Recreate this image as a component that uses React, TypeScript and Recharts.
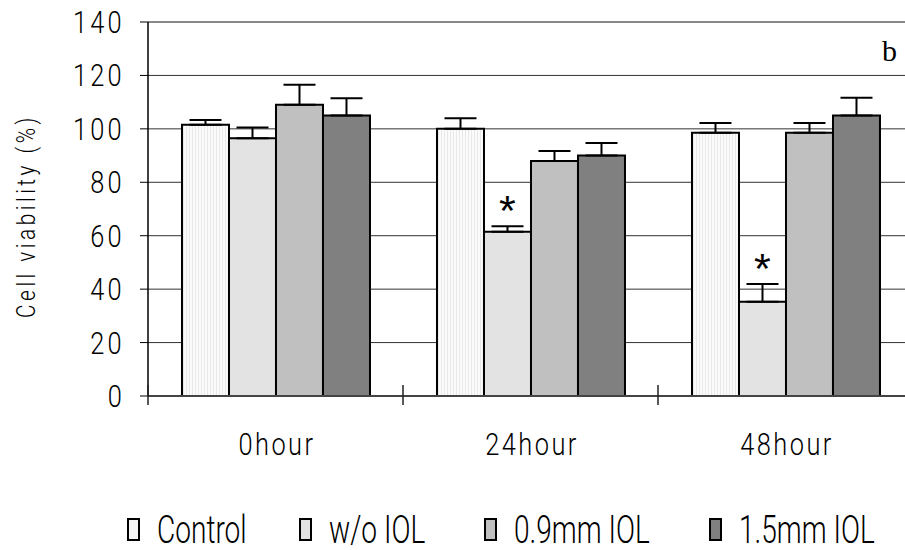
import React from "react";
import {
  BarChart,
  Bar,
  XAxis,
  YAxis,
  CartesianGrid,
  ErrorBar,
  LabelList,
  ReferenceLine,
} from "recharts";

const times = ["0hour", "24hour", "48hour"];
const control = [101.5, 100, 98.5];
const controlErr = [1.8, 4, 3.7];
const withoutIol = [96.5, 61.5, 35.3];
const withoutIolErr = [4, 2, 6.6];
const iol09 = [109, 88, 98.5];
const iol09Err = [7.5, 3.7, 3.7];
const iol15 = [105, 90, 105];
const iol15Err = [6.5, 4.7, 6.6];
const stars = ["", "*", "*"];
const yTicks = [0, 20, 40, 60, 80, 100, 120, 140];

const series = [
  { key: "control", name: "Control", fill: "url(#ctrlStripes)", swatch: "#f6f6f6" },
  { key: "withoutIol", name: "w/o IOL", fill: "#e3e3e3", swatch: "#e3e3e3" },
  { key: "iol09", name: "0.9mm IOL", fill: "#c0c0c0", swatch: "#c0c0c0" },
  { key: "iol15", name: "1.5mm IOL", fill: "#808080", swatch: "#808080" },
];

// legend item left edges (layout only)
const legendX = [127, 299, 484, 709];

const data = times.map((t, i) => ({
  time: t,
  control: control[i],
  controlErr: [0, controlErr[i]],
  withoutIol: withoutIol[i],
  withoutIolErr: [0, withoutIolErr[i]],
  iol09: iol09[i],
  iol09Err: [0, iol09Err[i]],
  iol15: iol15[i],
  iol15Err: [0, iol15Err[i]],
}));

const CHART_W = 913;
const CHART_H = 550;
const Y_AXIS_W = 148;
const BAND = (CHART_W - Y_AXIS_W) / times.length;
const thin = "Roboto, 'Liberation Sans', sans-serif";
const SQUEEZE = 0.82;

const HourTick = (props: any) => {
  const { x, y, payload } = props;
  const bx = x - BAND / 2;
  return (
    <g>
      <line x1={bx} x2={bx} y1={y - 11} y2={y + 9} stroke="#222" strokeWidth={1.5} />
      <text
        transform={`translate(${x + 1.5},${y + 59}) scale(${SQUEEZE},1)`}
        textAnchor="middle"
        fontFamily={thin}
        fontWeight={300}
        fontSize={31}
        letterSpacing={3}
        fill="#000"
      >
        {payload.value}
      </text>
    </g>
  );
};

const ValueTick = (props: any) => {
  const { x, y, payload } = props;
  return (
    <text
      transform={`translate(${x},${y}) scale(${SQUEEZE},1)`}
      textAnchor="end"
      dy="0.355em"
      fontFamily={thin}
      fontWeight={300}
      fontSize={31}
      letterSpacing={4}
      fill="#000"
    >
      {payload.value}
    </text>
  );
};

const Star = (props: any) => {
  const { x, y, width, height, value, index } = props;
  if (!stars[index]) return null;
  const perUnit = height / value;
  const errTop = y - withoutIolErr[index] * perUnit;
  return (
    <text
      x={x + width / 2}
      y={errTop - 1}
      textAnchor="middle"
      fontFamily="'Liberation Sans', sans-serif"
      fontSize={43}
      fill="#000"
    >
      {stars[index]}
    </text>
  );
};

const YLabel = (props: any) => {
  const { viewBox } = props;
  const cx = viewBox.x + 26;
  const cy = viewBox.y + viewBox.height / 2 + 7;
  return (
    <text
      transform={`translate(${cx},${cy}) rotate(-90) scale(0.8,1)`}
      textAnchor="middle"
      dominantBaseline="central"
      fontFamily={thin}
      fontWeight={300}
      fontSize={26}
      letterSpacing={4.4}
      fill="#000"
    >
      Cell viability (%)
    </text>
  );
};

export default function App() {
  return (
    <div
      style={{
        position: "fixed",
        left: 0,
        top: 0,
        width: 905,
        height: 550,
        overflow: "hidden",
        background: "#fff",
      }}
    >
      <BarChart
        width={CHART_W}
        height={CHART_H}
        data={data}
        margin={{ top: 22, right: 0, left: 0, bottom: 94 }}
        barCategoryGap="13.33%"
        barGap={0}
      >
        <defs>
          <pattern id="ctrlStripes" patternUnits="userSpaceOnUse" width={3} height={4}>
            <rect x={0} y={0} width={3} height={4} fill="#fbfbfb" />
            <rect x={0} y={0} width={1} height={4} fill="#e9e9e9" />
          </pattern>
        </defs>
        <CartesianGrid vertical={false} stroke="#333" strokeWidth={1} />
        <ReferenceLine y={140} stroke="#888" strokeWidth={2} />
        <XAxis
          dataKey="time"
          height={60}
          axisLine={{ stroke: "#444", strokeWidth: 2 }}
          tickLine={false}
          tickSize={0}
          tickMargin={0}
          tick={<HourTick />}
          interval={0}
        />
        <YAxis
          width={Y_AXIS_W}
          domain={[0, 140]}
          ticks={yTicks}
          interval={0}
          tickSize={8}
          tickMargin={15}
          axisLine={{ stroke: "#000", strokeWidth: 1.5 }}
          tickLine={{ stroke: "#000", strokeWidth: 1 }}
          tick={<ValueTick />}
          label={<YLabel />}
        />
        {series.map((s) => (
          <Bar
            key={s.key}
            dataKey={s.key}
            name={s.name}
            fill={s.fill}
            stroke="#000"
            strokeWidth={2}
            isAnimationActive={false}
          >
            <ErrorBar
              dataKey={s.key + "Err"}
              width={16}
              stroke="#000"
              strokeWidth={2}
              isAnimationActive={false}
            />
            {s.key === "withoutIol" && <LabelList dataKey="withoutIol" content={<Star />} />}
          </Bar>
        ))}
      </BarChart>
      <div
        style={{
          position: "absolute",
          right: 8,
          top: 36,
          fontFamily: "'Liberation Serif', serif",
          fontSize: 30,
          lineHeight: 1,
          color: "#000",
        }}
      >
        b
      </div>
      <svg
        width={905}
        height={50}
        style={{ position: "absolute", left: 0, top: 500 }}
      >
        {series.map((s, i) => (
          <g key={s.key}>
            <rect
              x={legendX[i] + 1}
              y={19}
              width={11}
              height={21}
              fill={s.swatch}
              stroke="#000"
              strokeWidth={2}
            />
            <text
              transform={`translate(${legendX[i] + 30},43) scale(0.72,1)`}
              fontFamily={thin}
              fontWeight={300}
              fontSize={39}
              fill="#000"
            >
              {s.name}
            </text>
          </g>
        ))}
      </svg>
    </div>
  );
}
